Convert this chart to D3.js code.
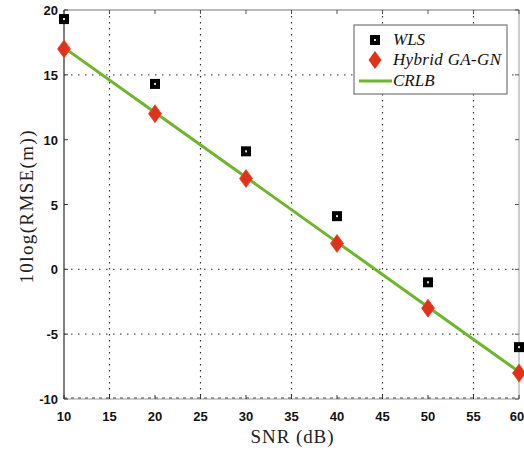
<!DOCTYPE html>
<html>
<head>
<meta charset="utf-8">
<script src="https://cdn.jsdelivr.net/npm/d3@7"></script>
<style>
  body { margin: 0; background: #fff; }
  .tick-label { font-family: "Liberation Sans", Arial, sans-serif; font-weight: bold; font-size: 13px; fill: #111; }
  .axis-title { font-family: "Liberation Serif", "Times New Roman", serif; font-size: 19px; fill: #222; }
  .legend-label { font-family: "Liberation Serif", "Times New Roman", serif; font-style: italic; font-size: 17px; fill: #111; }
</style>
</head>
<body>
<div id="chart"></div>
<script>
// data
const snr = [10, 20, 30, 40, 50, 60];
const wls = [19.3, 14.3, 9.1, 4.1, -1.0, -6.0];
const hybrid = [17.0, 12.0, 7.0, 2.0, -3.0, -8.0];
const crlb = [17.1, 12.1, 7.1, 2.1, -2.9, -7.9];

const xTicks = [10, 15, 20, 25, 30, 35, 40, 45, 50, 55, 60];
const yTicks = [-10, -5, 0, 5, 10, 15, 20];
const xGrid = [15, 25, 35, 45, 55];
const yGrid = [15, 0, -5];

const legendNames = ["WLS", "Hybrid GA-GN", "CRLB"];

const width = 524, height = 451;

const x = d3.scaleLinear().domain([10, 60]).range([64, 519]);
const y = d3.scaleLinear().domain([-10, 20]).range([399, 10]);

const svg = d3.select("#chart")
    .append("svg")
    .attr("width", width)
    .attr("height", height);

// grid (dotted)
svg.selectAll(".vgrid")
    .data(xGrid)
    .enter()
    .append("line")
    .attr("x1", (d) => x(d)).attr("x2", (d) => x(d))
    .attr("y1", y(20)).attr("y2", y(-10))
    .style("stroke", "#333")
    .style("stroke-width", 1.2)
    .style("stroke-dasharray", "1.5,4.5");

svg.selectAll(".hgrid")
    .data(yGrid)
    .enter()
    .append("line")
    .attr("x1", x(10)).attr("x2", x(60))
    .attr("y1", (d) => y(d)).attr("y2", (d) => y(d))
    .style("stroke", "#555")
    .style("stroke-width", 1.2)
    .style("stroke-dasharray", "1.5,5.5");

// frame
svg.append("line").attr("x1", x(10)).attr("x2", x(60)).attr("y1", y(20)).attr("y2", y(20))
    .style("stroke", "#777").style("stroke-width", 1.2);
svg.append("line").attr("x1", x(60)).attr("x2", x(60)).attr("y1", y(20)).attr("y2", y(-10))
    .style("stroke", "#aaa").style("stroke-width", 1.2);
svg.append("line").attr("x1", x(10)).attr("x2", x(10)).attr("y1", y(20)).attr("y2", y(-10))
    .style("stroke", "#555").style("stroke-width", 1.5);
svg.append("line").attr("x1", x(10)).attr("x2", x(60)).attr("y1", y(-10)).attr("y2", y(-10))
    .style("stroke", "#999").style("stroke-width", 1);
svg.append("line").attr("x1", x(10)).attr("x2", x(60)).attr("y1", y(-10) - 1).attr("y2", y(-10) - 1)
    .style("stroke", "#444").style("stroke-width", 1.2)
    .style("stroke-dasharray", "3,4");

// ticks (inward)
svg.selectAll(".xtick")
    .data(xTicks)
    .enter()
    .each(function(d) {
        const g = d3.select(this);
        g.append("line")
            .attr("x1", x(d)).attr("x2", x(d))
            .attr("y1", y(-10)).attr("y2", y(-10) - 4)
            .style("stroke", "#333");
        g.append("line")
            .attr("x1", x(d)).attr("x2", x(d))
            .attr("y1", y(20)).attr("y2", y(20) + 4)
            .style("stroke", "#555");
        g.append("text")
            .attr("class", "tick-label")
            .attr("x", d === 60 ? x(d) - 2 : x(d))
            .attr("y", y(-10) + 22)
            .attr("text-anchor", "middle")
            .text(d);
    });

svg.selectAll(".ytick")
    .data(yTicks)
    .enter()
    .each(function(d) {
        const g = d3.select(this);
        g.append("line")
            .attr("x1", x(10)).attr("x2", x(10) + 4)
            .attr("y1", y(d)).attr("y2", y(d))
            .style("stroke", "#333");
        g.append("line")
            .attr("x1", x(60)).attr("x2", x(60) - 4)
            .attr("y1", y(d)).attr("y2", y(d))
            .style("stroke", "#555");
        g.append("text")
            .attr("class", "tick-label")
            .attr("x", x(10) - 6)
            .attr("y", y(d) + 5)
            .attr("text-anchor", "end")
            .text(d);
    });

// CRLB line
const lineFunction = d3.line()
    .x((d, i) => x(snr[i]))
    .y((d) => y(d));

svg.append("path")
    .attr("d", lineFunction(crlb))
    .style("fill", "none")
    .style("stroke", "#6fb52c")
    .style("stroke-width", 3);

// hybrid diamonds
const diamond = (cx, cy) => `M${cx},${cy - 9} L${cx + 6.5},${cy} L${cx},${cy + 9} L${cx - 6.5},${cy} Z`;

svg.selectAll(".hybrid")
    .data(hybrid)
    .enter()
    .append("path")
    .attr("d", (d, i) => diamond(x(snr[i]), y(d)))
    .style("fill", "#e0321a")
    .style("stroke", "#e84a2a")
    .style("stroke-width", 0.8);

// WLS squares
svg.selectAll(".wls")
    .data(wls)
    .enter()
    .each(function(d, i) {
        const g = d3.select(this);
        g.append("rect")
            .attr("x", x(snr[i]) - 5).attr("y", y(d) - 5)
            .attr("width", 10).attr("height", 10)
            .style("fill", "#000");
        g.append("rect")
            .attr("x", x(snr[i]) - 1).attr("y", y(d) - 1)
            .attr("width", 2).attr("height", 2)
            .style("fill", "#ddd");
    });

// legend
const legend = svg.append("g");
legend.append("rect")
    .attr("x", 354).attr("y", 25)
    .attr("width", 153).attr("height", 69)
    .style("fill", "#fff")
    .style("stroke", "#777")
    .style("stroke-width", 1.2);

const legendY = [40, 60, 81];
legend.append("rect").attr("x", 370).attr("y", legendY[0] - 5).attr("width", 10).attr("height", 10).style("fill", "#000");
legend.append("rect").attr("x", 374).attr("y", legendY[0] - 1).attr("width", 2).attr("height", 2).style("fill", "#ddd");
legend.append("path").attr("d", diamond(375, legendY[1])).style("fill", "#e0321a");
legend.append("line")
    .attr("x1", 359).attr("x2", 392)
    .attr("y1", legendY[2]).attr("y2", legendY[2])
    .style("stroke", "#6fb52c").style("stroke-width", 3);

legend.selectAll(".legend-label")
    .data(legendNames)
    .enter()
    .append("text")
    .attr("class", "legend-label")
    .attr("x", 393)
    .attr("y", (d, i) => legendY[i] + 5)
    .attr("textLength", (d) => d === "Hybrid GA-GN" ? 108 : null)
    .text((d) => d);

// axis titles
svg.append("text")
    .attr("class", "axis-title")
    .attr("x", 292)
    .attr("y", 443)
    .attr("text-anchor", "middle")
    .attr("textLength", 83)
    .text("SNR (dB)");

svg.append("text")
    .attr("class", "axis-title")
    .attr("transform", "translate(33,207) rotate(-90)")
    .attr("text-anchor", "middle")
    .attr("textLength", 153)
    .text("10log(RMSE(m))");
</script>
</body>
</html>
